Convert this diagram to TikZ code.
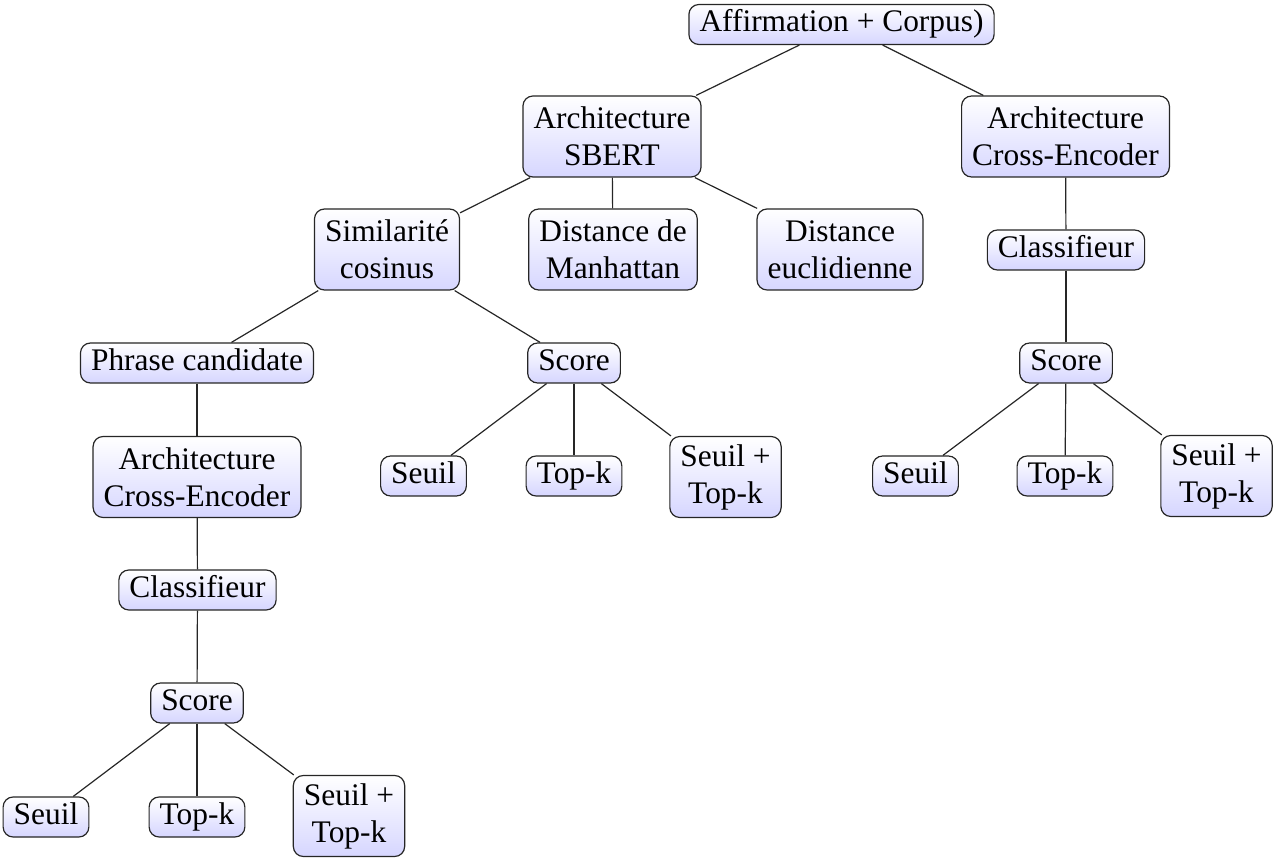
\documentclass[tikz,border=0pt]{standalone}
\usepackage{fontspec}
\setmainfont{Liberation Serif}
\begin{document}
\begin{tikzpicture}[x=0.5pt,y=-0.5pt,
  base/.style={draw=black!85, line width=0.6pt, rounded corners=5pt, top color=white, bottom color=blue!16,
    font=\fontsize{15.7}{18.5}\selectfont, align=center, inner xsep=5.3pt},
  box/.style={base, text height=11pt, text depth=3.5pt, inner ysep=2.75pt},
  tbox/.style={base, inner ysep=0pt, minimum height=40.5pt},
  edge/.style={draw=black!85, line width=0.6pt}]
\useasboundingbox (0,0) rectangle (1275,860);
\node[box] (root) at (841.5,24.5) {Affirmation + Corpus)};
\node[tbox] (sbert) at (612,136.5) {Architecture\\SBERT};
\node[tbox] (cer) at (1065.5,136.5) {Architecture\\Cross-Encoder};
\node[tbox] (cos) at (387,249.5) {Similarité\\cosinus};
\node[tbox] (man) at (613,249.5) {Distance de\\Manhattan};
\node[tbox] (euc) at (840,249.5) {Distance\\euclidienne};
\node[box] (clsr) at (1066,250) {Classifieur};
\node[box] (phr) at (197,363) {Phrase candidate};
\node[box] (scm) at (574,363) {Score};
\node[box] (scr) at (1066,363) {Score};
\node[tbox] (cel) at (197,477) {Architecture\\Cross-Encoder};
\node[box] (sem) at (423.5,476) {Seuil};
\node[box] (tkm) at (574,476) {Top-k};
\node[tbox] (stm) at (725.5,477) {Seuil +\\Top-k};
\node[box] (ser) at (915.5,476) {Seuil};
\node[box] (tkr) at (1065,476) {Top-k};
\node[tbox] (str) at (1216.5,476) {Seuil +\\Top-k};
\node[box] (clsl) at (197.5,590) {Classifieur};
\node[box] (scl) at (197,703) {Score};
\node[box] (sel) at (46,817) {Seuil};
\node[box] (tkl) at (197,817) {Top-k};
\node[tbox] (stl) at (349,816) {Seuil +\\Top-k};
\foreach \a/\b in {root/sbert,root/cer,sbert/cos,sbert/man,sbert/euc,cer/clsr,clsr/scr,scr/ser,scr/tkr,scr/str,
  cos/phr,cos/scm,scm/sem,scm/tkm,scm/stm,phr/cel,cel/clsl,clsl/scl,scl/sel,scl/tkl,scl/stl}
  \draw[edge] (\a) -- (\b);
\end{tikzpicture}
\end{document}
